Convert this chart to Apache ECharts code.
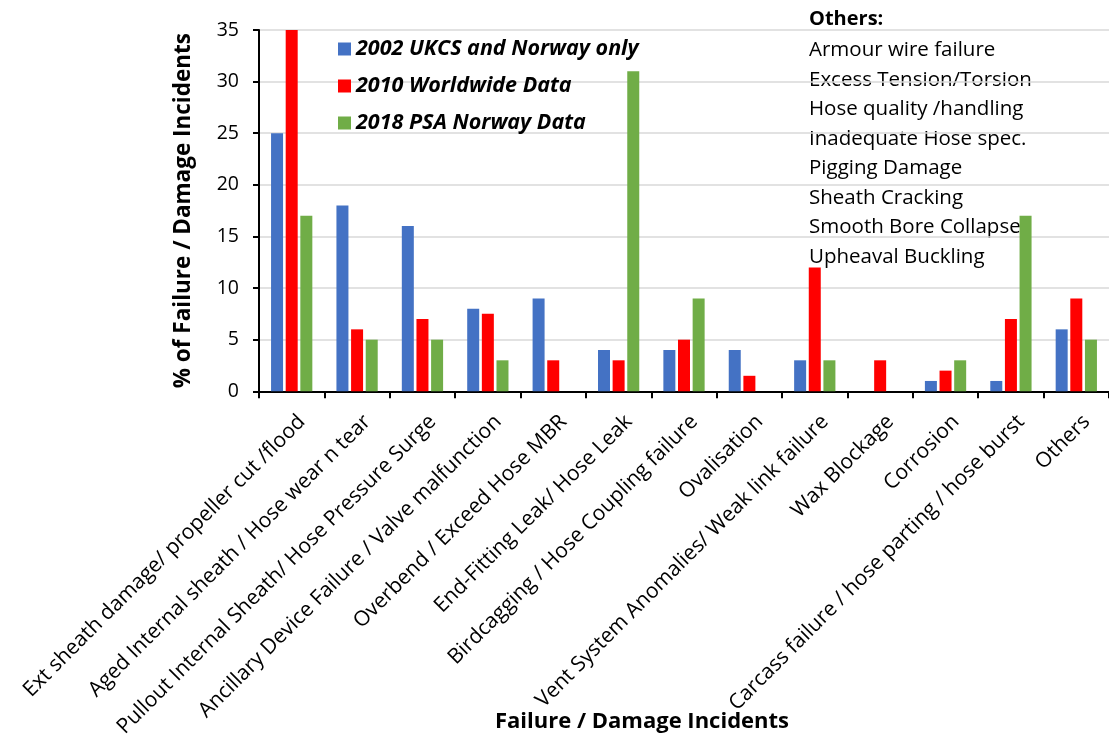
<!DOCTYPE html>
<html>
<head>
<meta charset="utf-8">
<script src="https://cdn.jsdelivr.net/npm/echarts@6/dist/echarts.min.js"></script>
<style>
  html, body { margin: 0; padding: 0; background: #fff; }
  #chart { width: 1109px; height: 740px; }
</style>
</head>
<body>
<div id="chart"></div>
<script>
const categories = [
  'Ext sheath damage/ propeller cut /flood',
  'Aged Internal sheath / Hose wear n tear',
  'Pullout Internal Sheath/ Hose Pressure Surge',
  'Ancillary Device Failure / Valve malfunction',
  'Overbend / Exceed Hose MBR',
  'End-Fitting Leak/ Hose Leak',
  'Birdcagging / Hose Coupling failure',
  'Ovalisation',
  'Vent System Anomalies/ Weak link failure',
  'Wax Blockage',
  'Corrosion',
  'Carcass failure / hose parting / hose burst',
  'Others'
]
const data2002 = [25, 18, 16, 8, 9, 4, 4, 4, 3, 0, 1, 1, 6]
const data2010 = [35, 6, 7, 7.5, 3, 3, 5, 1.5, 12, 3, 2, 7, 9]
const data2018 = [17, 5, 5, 3, 0, 31, 9, 0, 3, 0, 3, 17, 5]
const othersList = [
  'Armour wire failure',
  'Excess Tension/Torsion',
  'Hose quality /handling',
  'Inadequate Hose spec.',
  'Pigging Damage',
  'Sheath Cracking',
  'Smooth Bore Collapse',
  'Upheaval Buckling'
]

const font = 'Open Sans'
const chart = echarts.init(document.getElementById('chart'))

const bar = (name, color, data) => ({
  name: name,
  type: 'bar',
  data: data,
  barWidth: 12,
  barGap: '22%',
  itemStyle: { color: color },
  animation: false
})

chart.setOption({
  textStyle: { fontFamily: font },
  // plot runs a little past the right edge, as in the original
  grid: { left: 259, top: 30, width: 857, height: 363 },
  legend: {
    orient: 'vertical',
    left: 333,
    top: 33,
    itemWidth: 13,
    itemHeight: 13,
    itemGap: 15,
    icon: 'rect',
    textStyle: { fontFamily: font, fontSize: 21.5, fontWeight: 'bold', fontStyle: 'italic', color: '#000' },
    data: ['2002 UKCS and Norway only', '2010 Worldwide Data', '2018 PSA Norway Data']
  },
  xAxis: {
    type: 'category',
    data: categories,
    axisLine: { lineStyle: { color: '#000', width: 2 } },
    axisTick: { show: true, length: 7, lineStyle: { color: '#000', width: 2 } },
    axisLabel: {
      interval: 0, rotate: 45, fontSize: 21, color: '#000', fontFamily: font,
      margin: 17, verticalAlign: 'top', padding: [4, 0, 0, 0]
    }
  },
  yAxis: {
    type: 'value',
    min: 0,
    max: 35,
    interval: 5,
    name: '% of Failure / Damage Incidents',
    nameLocation: 'middle',
    nameGap: 64,
    nameTextStyle: { fontFamily: font, fontSize: 22.5, fontWeight: 'bold', color: '#000' },
    axisLine: { show: true, lineStyle: { color: '#000', width: 2 } },
    axisTick: { show: true, length: 6, lineStyle: { color: '#000', width: 2 } },
    axisLabel: { fontSize: 19.5, color: '#000', margin: 20, fontFamily: font },
    splitLine: { lineStyle: { color: '#d9d9d9', width: 1.5 } }
  },
  series: [
    bar('2002 UKCS and Norway only', '#4472c4', data2002),
    bar('2010 Worldwide Data', '#ff0000', data2010),
    bar('2018 PSA Norway Data', '#70ad47', data2018)
  ],
  graphic: [{
    type: 'text',
    left: 809,
    top: 9,
    style: {
      text: 'Others:',
      fontFamily: font,
      fontSize: 20,
      fontWeight: 'bold',
      fill: '#000'
    }
  }, {
    type: 'text',
    left: 809,
    top: 35.5,
    style: {
      text: othersList.join('\n'),
      fontFamily: font,
      fontSize: 20.5,
      lineHeight: 29.5,
      fill: '#000'
    }
  }, {
    type: 'text',
    left: 495,
    top: 711,
    style: {
      text: 'Failure / Damage Incidents',
      fontFamily: font,
      fontSize: 22,
      fontWeight: 'bold',
      fill: '#000'
    }
  }]
})
</script>
</body>
</html>
